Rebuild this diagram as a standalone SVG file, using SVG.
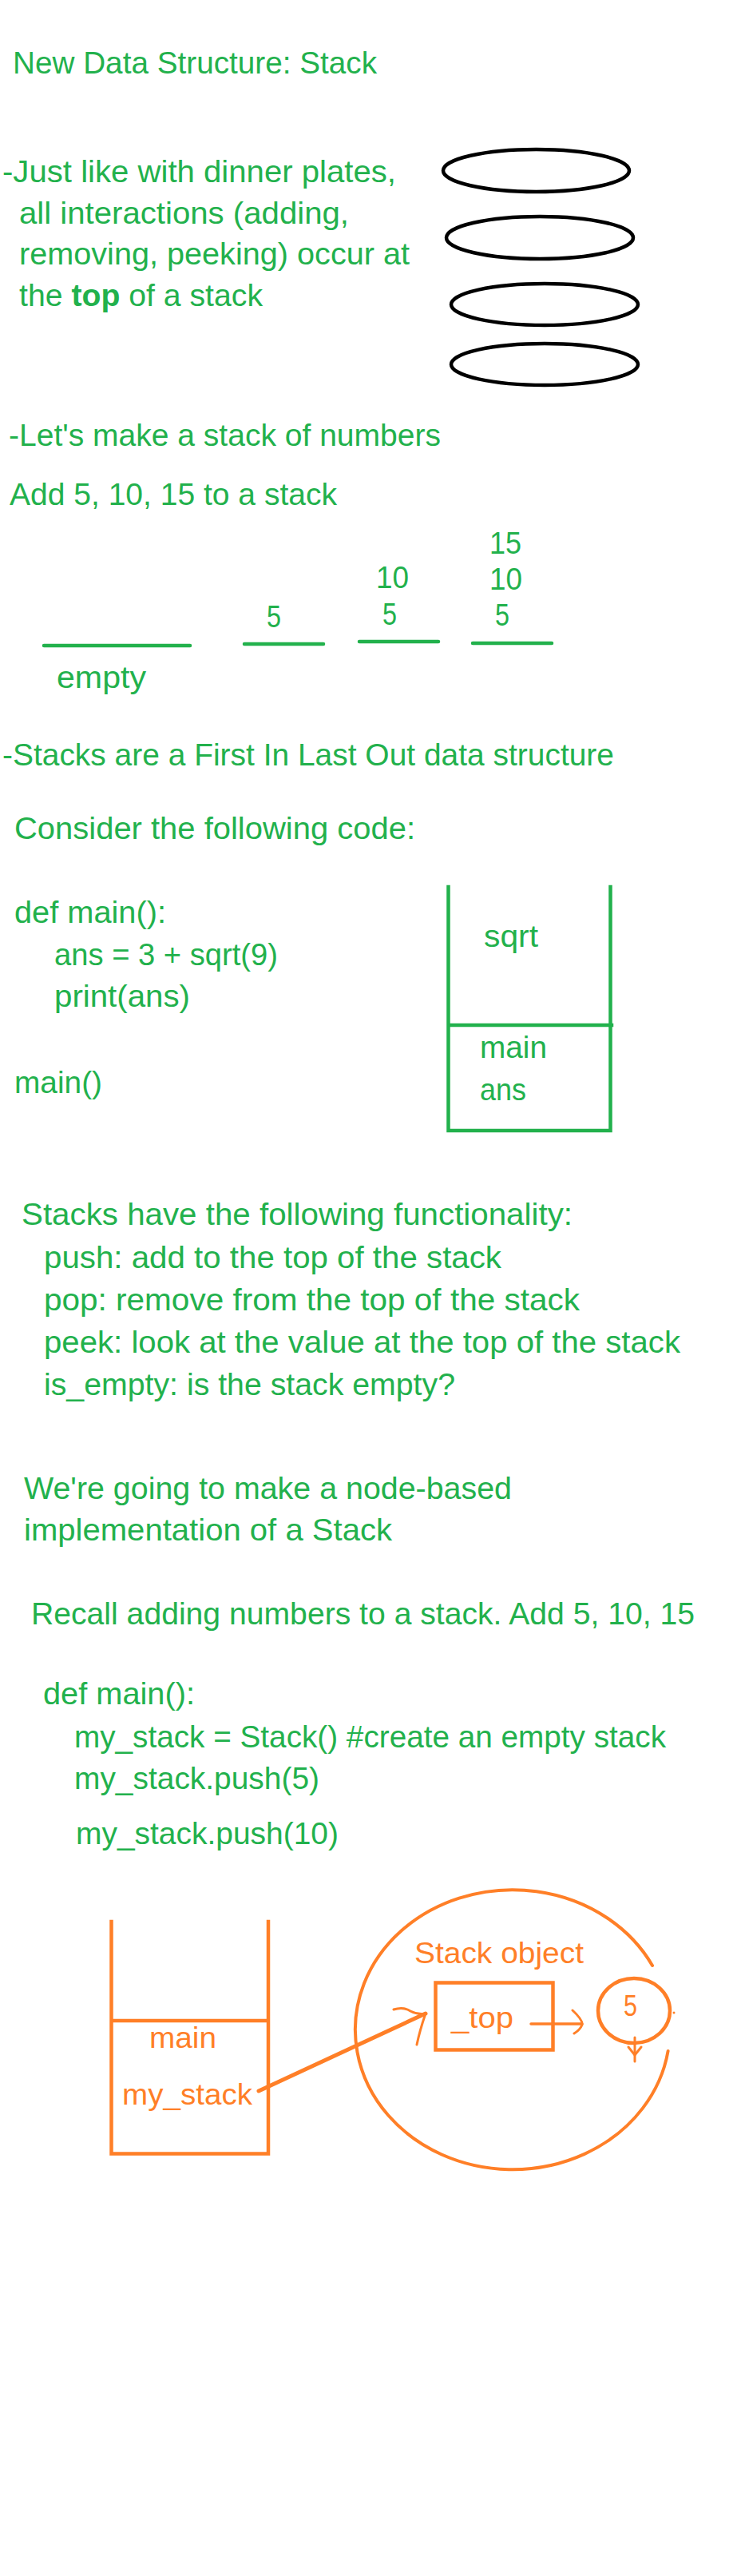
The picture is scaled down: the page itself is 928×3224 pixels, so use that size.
<svg xmlns="http://www.w3.org/2000/svg" width="928" height="3224" viewBox="0 0 928 3224">
<style>
text{font-family:"Liberation Sans",Arial,sans-serif;}
.g{fill:#22B14C;font-size:39px;}
.o{fill:#FF7F27;font-size:37px;}
.gl{stroke:#22B14C;stroke-width:4.5;fill:none;stroke-linecap:round;}
.gf{stroke:#22B14C;stroke-width:4.5;fill:none;stroke-linecap:square;}
.of{stroke:#FF7F27;stroke-width:4.5;fill:none;stroke-linecap:square;}
.oc{stroke:#FF7F27;fill:none;stroke-linecap:round;stroke-linejoin:round;}
.plate{stroke:#000;stroke-width:4.5;fill:none;}
</style>
<rect width="928" height="3224" fill="#fff"/>

<g id="title"><text class="g" x="16" y="92" textLength="456" lengthAdjust="spacingAndGlyphs">New Data Structure: Stack</text></g>

<g id="plates-text">
<text class="g" x="3" y="228" textLength="493" lengthAdjust="spacingAndGlyphs">-Just like with dinner plates,</text>
<text class="g" x="24" y="280" textLength="413" lengthAdjust="spacingAndGlyphs">all interactions (adding,</text>
<text class="g" x="24" y="331" textLength="489" lengthAdjust="spacingAndGlyphs">removing, peeking) occur at</text>
<text class="g" x="24" y="383" textLength="305" lengthAdjust="spacingAndGlyphs">the <tspan font-weight="bold">top</tspan> of a stack</text>
</g>

<g id="plates">
<ellipse class="plate" cx="671.5" cy="213.5" rx="116.5" ry="26.5"/>
<ellipse class="plate" cx="676" cy="297.5" rx="117" ry="26.5"/>
<ellipse class="plate" cx="682" cy="381" rx="117" ry="26"/>
<ellipse class="plate" cx="682" cy="456" rx="117" ry="26"/>
</g>

<g id="numbers-stack">
<text class="g" x="11" y="558" textLength="541" lengthAdjust="spacingAndGlyphs">-Let's make a stack of numbers</text>
<text class="g" x="12" y="632" textLength="410" lengthAdjust="spacingAndGlyphs">Add 5, 10, 15 to a stack</text>
<line class="gl" x1="55" y1="808" x2="238" y2="808"/>
<text class="g" x="71" y="861" textLength="112" lengthAdjust="spacingAndGlyphs">empty</text>
<line class="gl" x1="306" y1="806" x2="405" y2="806"/>
<text class="g" x="334" y="785" textLength="18" lengthAdjust="spacingAndGlyphs">5</text>
<line class="gl" x1="450" y1="803" x2="549" y2="803"/>
<text class="g" x="479" y="782" textLength="18" lengthAdjust="spacingAndGlyphs">5</text>
<text class="g" x="471" y="736" textLength="41" lengthAdjust="spacingAndGlyphs">10</text>
<line class="gl" x1="592" y1="805" x2="691" y2="805"/>
<text class="g" x="620" y="783" textLength="18" lengthAdjust="spacingAndGlyphs">5</text>
<text class="g" x="613" y="738" textLength="41" lengthAdjust="spacingAndGlyphs">10</text>
<text class="g" x="613" y="693" textLength="40" lengthAdjust="spacingAndGlyphs">15</text>
<text class="g" x="3" y="958" textLength="766" lengthAdjust="spacingAndGlyphs">-Stacks are a First In Last Out data structure</text>
</g>

<g id="code1">
<text class="g" x="18" y="1050" textLength="502" lengthAdjust="spacingAndGlyphs">Consider the following code:</text>
<text class="g" x="18" y="1155" textLength="190" lengthAdjust="spacingAndGlyphs">def main():</text>
<text class="g" x="68" y="1208" textLength="280" lengthAdjust="spacingAndGlyphs">ans = 3 + sqrt(9)</text>
<text class="g" x="68" y="1260" textLength="170" lengthAdjust="spacingAndGlyphs">print(ans)</text>
<text class="g" x="18" y="1368" textLength="110" lengthAdjust="spacingAndGlyphs">main()</text>
</g>

<g id="call-stack">
<path class="gf" d="M561.5 1110 V1415 H764.5 V1110 M561.5 1283 H766"/>
<text class="g" x="606" y="1185" textLength="68" lengthAdjust="spacingAndGlyphs">sqrt</text>
<text class="g" x="601" y="1324" textLength="84" lengthAdjust="spacingAndGlyphs">main</text>
<text class="g" x="601" y="1377" textLength="58" lengthAdjust="spacingAndGlyphs">ans</text>
</g>

<g id="functionality">
<text class="g" x="27" y="1533" textLength="690" lengthAdjust="spacingAndGlyphs">Stacks have the following functionality:</text>
<text class="g" x="55" y="1587" textLength="573" lengthAdjust="spacingAndGlyphs">push: add to the top of the stack</text>
<text class="g" x="55" y="1640" textLength="671" lengthAdjust="spacingAndGlyphs">pop: remove from the top of the stack</text>
<text class="g" x="55" y="1693" textLength="797" lengthAdjust="spacingAndGlyphs">peek: look at the value at the top of the stack</text>
<text class="g" x="55" y="1746" textLength="515" lengthAdjust="spacingAndGlyphs">is_empty: is the stack empty?</text>
<text class="g" x="30" y="1876" textLength="611" lengthAdjust="spacingAndGlyphs">We're going to make a node-based</text>
<text class="g" x="30" y="1928" textLength="461" lengthAdjust="spacingAndGlyphs">implementation of a Stack</text>
</g>

<g id="code2">
<text class="g" x="39" y="2033" textLength="831" lengthAdjust="spacingAndGlyphs">Recall adding numbers to a stack. Add 5, 10, 15</text>
<text class="g" x="54" y="2133" textLength="190" lengthAdjust="spacingAndGlyphs">def main():</text>
<text class="g" x="93" y="2187" textLength="741" lengthAdjust="spacingAndGlyphs">my_stack = Stack() #create an empty stack</text>
<text class="g" x="93" y="2239" textLength="307" lengthAdjust="spacingAndGlyphs">my_stack.push(5)</text>
<text class="g" x="95" y="2308" textLength="329" lengthAdjust="spacingAndGlyphs">my_stack.push(10)</text>
</g>

<g id="main-frame">
<path class="of" d="M139.5 2405 V2695.5 H336 V2405 M139.5 2529 H334"/>
<text class="o" x="187" y="2563" textLength="84" lengthAdjust="spacingAndGlyphs">main</text>
<text class="o" x="153" y="2634" textLength="163" lengthAdjust="spacingAndGlyphs">my_stack</text>
</g>

<g id="stack-object">
<path class="oc" stroke-width="4" d="M836.6 2567 A197 175 0 1 1 817 2460"/>
<text class="o" x="519" y="2457" font-size="35" textLength="212" lengthAdjust="spacingAndGlyphs">Stack object</text>
</g>

<g id="top-field">
<rect class="of" x="545.5" y="2481.5" width="147" height="84"/>
<text class="o" x="565" y="2538" textLength="78" lengthAdjust="spacingAndGlyphs">_top</text>
</g>

<g id="node-5">
<ellipse class="oc" stroke-width="4.5" cx="794" cy="2516.5" rx="45" ry="40.5"/>
<text class="o" x="781" y="2523" font-size="33" textLength="17" lengthAdjust="spacingAndGlyphs">5</text>
<circle cx="844" cy="2519" r="1.5" fill="#FF7F27"/>
</g>

<g id="connectors">
<path class="oc" stroke-width="5" d="M324 2617 L533 2520"/>
<path class="oc" stroke-width="3" d="M493 2515 Q505 2511 514 2517 Q524 2522 533 2520 Q526 2540 522 2559"/>
<path class="oc" stroke-width="3.5" d="M665 2533 L729 2533"/>
<path class="oc" stroke-width="3" d="M717 2516 Q730 2528 729 2534 Q727 2540 719 2545"/>
<path class="oc" stroke-width="3" d="M795 2550 L795 2580"/>
<path class="oc" stroke-width="3" d="M787 2562 L795 2572 L803 2562"/>
</g>
</svg>
